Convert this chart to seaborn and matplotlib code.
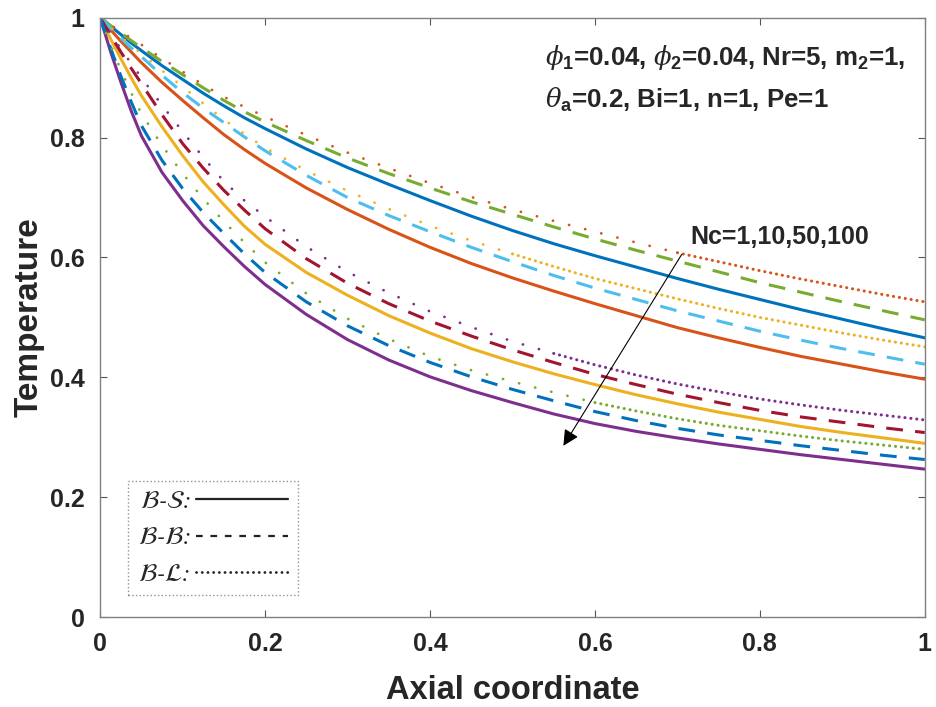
import matplotlib
matplotlib.use("Agg")
import matplotlib.pyplot as plt
from matplotlib.lines import Line2D
import seaborn as sns

# ---------------- data ----------------
x_axial = [0, 0.0125, 0.025, 0.0375, 0.05, 0.075, 0.1, 0.125, 0.15, 0.175, 0.2, 0.25, 0.3, 0.35,
           0.4, 0.45, 0.5, 0.55, 0.6, 0.65, 0.7, 0.75, 0.8, 0.85, 0.9, 0.95, 1.0]
nc_values = [1, 10, 50, 100]

# B-S (solid)
bs_nc1   = [1, .986, .972, .958, .945, .920, .897, .874, .853, .833, .815, .781, .750, .722,
            .695, .669, .645, .623, .603, .584, .565, .547, .530, .513, .497, .481, .466]
bs_nc10  = [1, .980, .961, .943, .925, .892, .862, .833, .805, .780, .757, .716, .680, .647,
            .617, .590, .566, .544, .523, .503, .483, .466, .450, .435, .422, .409, .397]
bs_nc50  = [1, .965, .932, .900, .870, .818, .770, .726, .688, .652, .622, .575, .537, .503,
            .474, .448, .426, .406, .388, .371, .356, .342, .330, .318, .308, .299, .290]
bs_nc100 = [1, .944, .893, .845, .803, .742, .695, .653, .618, .585, .555, .505, .463, .429,
            .401, .378, .358, .339, .323, .310, .299, .289, .280, .271, .263, .255, .247]
# B-B (dashed)
bb_nc1   = [1, .987, .975, .962, .950, .927, .905, .883, .862, .843, .826, .795, .766, .740,
            .716, .693, .672, .651, .631, .612, .594, .576, .558, .542, .526, .511, .496]
bb_nc10  = [1, .983, .966, .950, .935, .904, .875, .849, .825, .801, .778, .737, .700, .670,
            .643, .617, .593, .570, .549, .530, .511, .494, .477, .462, .448, .435, .422]
bb_nc50  = [1, .971, .943, .916, .890, .838, .790, .749, .712, .679, .648, .598, .557, .523,
            .494, .469, .446, .425, .405, .388, .372, .358, .345, .334, .325, .316, .308]
bb_nc100 = [1, .950, .903, .860, .820, .762, .715, .675, .640, .606, .575, .526, .486, .453,
            .425, .401, .380, .361, .343, .328, .315, .304, .295, .286, .278, .270, .263]
# B-L (dotted)
bl_nc1   = [1, .988, .977, .966, .955, .932, .910, .888, .868, .851, .835, .804, .775, .749,
            .724, .701, .680, .661, .643, .625, .608, .593, .578, .564, .551, .538, .526]
bl_nc10  = [1, .984, .968, .954, .940, .912, .885, .857, .830, .806, .783, .745, .711, .681,
            .653, .628, .606, .585, .565, .548, .531, .515, .500, .487, .474, .462, .451]
bl_nc50  = [1, .974, .948, .924, .900, .854, .810, .767, .727, .695, .668, .618, .576, .541,
            .510, .484, .460, .440, .421, .404, .389, .376, .364, .354, .345, .337, .329]
bl_nc100 = [1, .955, .913, .875, .840, .787, .740, .698, .660, .625, .592, .540, .498, .464,
            .435, .412, .393, .375, .358, .344, .331, .320, .311, .302, .294, .287, .280]

tick_values = [0, 0.2, 0.4, 0.6, 0.8, 1]
tick_labels = ["0", "0.2", "0.4", "0.6", "0.8", "1"]

# ---------------- style ----------------
sns.set_style("ticks")
plt.rcParams["font.family"] = ["Liberation Sans", "DejaVu Sans"]
plt.rcParams["mathtext.fontset"] = "custom"
plt.rcParams["mathtext.rm"] = "Liberation Sans:bold"
plt.rcParams["mathtext.bf"] = "Liberation Sans:bold"
plt.rcParams["mathtext.it"] = "DejaVu Serif:italic"

C_BLUE, C_ORANGE, C_YELLOW, C_PURPLE = "#0072BD", "#D95319", "#EDB120", "#7E2F8E"
C_GREEN, C_LBLUE, C_DRED = "#77AC30", "#4DBEEE", "#A2142F"

solid_sets = [(bs_nc1, C_BLUE), (bs_nc10, C_ORANGE), (bs_nc50, C_YELLOW), (bs_nc100, C_PURPLE)]
dash_sets = [(bb_nc1, C_GREEN), (bb_nc10, C_LBLUE), (bb_nc50, C_DRED), (bb_nc100, C_BLUE)]
# third item: sample index from which the dotted pattern is rendered dense
dot_sets = [(bl_nc1, C_ORANGE, 20), (bl_nc10, C_YELLOW, 16), (bl_nc50, C_PURPLE, 17), (bl_nc100, C_GREEN, 18)]

LW = 2.2

fig = plt.figure(figsize=(9.36, 7.07), dpi=100)
ax = fig.add_axes([0.107, 0.127, 0.881, 0.848])

for ys, c in solid_sets:
    sns.lineplot(x=x_axial, y=ys, ax=ax, color=c, lw=LW, linestyle="-",
                 sort=False, errorbar=None, legend=False)
for ys, c in dash_sets:
    sns.lineplot(x=x_axial, y=ys, ax=ax, color=c, lw=LW, linestyle=(0, (5.5, 4)),
                 sort=False, errorbar=None, legend=False)
for ys, c, k in dot_sets:
    sns.lineplot(x=x_axial[:k + 1], y=ys[:k + 1], ax=ax, color=c, lw=LW * 0.9,
                 linestyle=(0, (0.05, 6.0)), dash_capstyle="round",
                 sort=False, errorbar=None, legend=False)
    sns.lineplot(x=x_axial[k:], y=ys[k:], ax=ax, color=c, lw=LW,
                 linestyle=(0, (0.05, 1.9)), dash_capstyle="round",
                 sort=False, errorbar=None, legend=False)

ax.set_xlim(0, 1)
ax.set_ylim(0, 1)
ax.set_xticks(tick_values)
ax.set_xticklabels(tick_labels)
ax.set_yticks(tick_values)
ax.set_yticklabels(tick_labels)
ax.tick_params(direction="in", length=5, width=0.8, color="#555555",
               top=True, right=True, labelsize=18, pad=11)
for lab in ax.get_xticklabels() + ax.get_yticklabels():
    lab.set_fontweight("bold")
for sp in ax.spines.values():
    sp.set_visible(True)
    sp.set_color("#808080")
    sp.set_linewidth(1.0)

ax.set_xlabel("Axial coordinate", fontsize=23.5, fontweight="bold", labelpad=13)
ax.set_ylabel("Temperature", fontsize=24, fontweight="bold", labelpad=4)

# parameter annotation
ax.text(0.539, 0.933, r"$\phi_{\mathrm{1}}$=0.04, $\phi_{\mathrm{2}}$=0.04, Nr=5, m$_{\mathrm{2}}$=1,",
        transform=ax.transAxes, fontsize=18.6, fontweight="bold", ha="left", va="center")
ax.text(0.539, 0.863, r"$\theta_{\mathrm{a}}$=0.2, Bi=1, n=1, Pe=1",
        transform=ax.transAxes, fontsize=18.6, fontweight="bold", ha="left", va="center")

# Nc arrow
ax.annotate("", xy=(0.56, 0.282), xytext=(0.707, 0.609),
            arrowprops=dict(arrowstyle="-|>", color="black", lw=0.8, mutation_scale=24))
ax.text(0.716, 0.634, "Nc=1,10,50,100", fontsize=18, fontweight="bold",
        ha="left", va="center")

# legend (label first, line sample after)
handles = [Line2D([], [], color="#222222", lw=1.6, linestyle="-"),
           Line2D([], [], color="#222222", lw=1.6, linestyle=(0, (3, 3.5))),
           Line2D([], [], color="#222222", lw=2.0, linestyle=(0, (0.05, 2.0)), dash_capstyle="round")]
labels = [r"$\mathcal{B}$-$\mathcal{S}$:", r"$\mathcal{B}$-$\mathcal{B}$:", r"$\mathcal{B}$-$\mathcal{L}$:"]
leg = ax.legend(handles, labels, loc="lower left", bbox_to_anchor=(0.034, 0.037),
                borderaxespad=0, markerfirst=False, frameon=True, fancybox=False,
                prop={"family": "STIXGeneral", "style": "italic", "size": 18},
                handlelength=3.7, handletextpad=0.2, labelspacing=0.55, borderpad=0.38)
fr = leg.get_frame()
fr.set_linestyle(":")
fr.set_edgecolor("#777777")
fr.set_linewidth(1.0)
for t in leg.get_texts():
    t.set_math_fontfamily("stix")

fig.savefig("out.png", dpi=100)
